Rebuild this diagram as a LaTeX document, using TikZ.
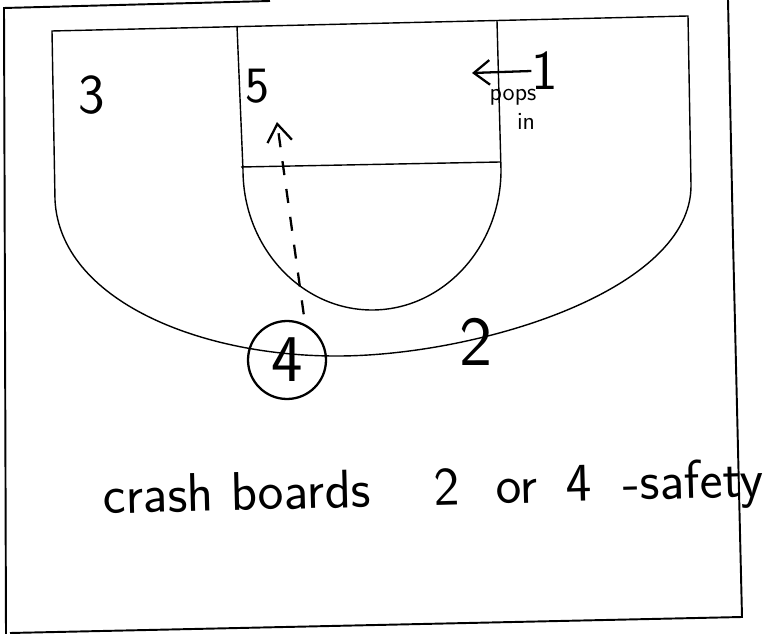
\documentclass[tikz,border=0pt]{standalone}
\usepackage{tikz}
\usetikzlibrary{arrows.meta, positioning, calc}

\begin{document}
\begin{tikzpicture}[x=0.02cm, y=-0.02cm,
  frame/.style={line width=1.1pt},
  court/.style={line width=0.8pt},
  player/.style={font=\sffamily\fontsize{32}{32}\selectfont, inner sep=0pt},
  note/.style={font=\sffamily\fontsize{14}{14}\selectfont, inner sep=0pt},
  cut/.style={line width=1.3pt, dash pattern=on 8pt off 8pt,
    -{Straight Barb[length=10pt, width=14pt, line width=1.3pt]}},
  popline/.style={line width=1.3pt,
    -{Straight Barb[length=9pt, width=14pt, line width=1.3pt]}}]

\useasboundingbox (0,0) rectangle (767,634);

% Sheet border
\draw[frame] (270,1) -- (4,8) -- (6,634);
\draw[frame] (728,0) -- (733,240) -- (742,617) -- (10,633);

% Half court
\draw[court] (55,200) -- (52,31) -- (688,16) -- (691,185)
  .. controls (692,290) and (480,355) .. (340,356)
  .. controls (200,357) and (60,300) .. (55,200);
\draw[court] (237,26) -- (243,170)
  .. controls (243,247) and (301,310) .. (372,310)
  .. controls (443,310) and (501,247) .. (501,170) -- (497,21);
\draw[court] (241,167) -- (500,162);

% Players
\node[player] (p3) at (92,95) {3};
\node[player, font=\sffamily\fontsize{29}{29}\selectfont] (p5) at (257,86) {5};
\node[player] (p1) at (545,71) {1};
\node[player, draw, circle, line width=1.3pt, minimum size=1.56cm,
  font=\sffamily\fontsize{38}{38}\selectfont] (p4) at (287,360) {4};
\node[player, font=\sffamily\fontsize{40}{40}\selectfont] (p2) at (476,342) {2};

\node[note] (pops) at (513,97) {pops};
\node[note] (in) at (526,121) {in};

% Moves
\coordinate (cut5) at (277,122);
\draw[cut] ($(p4.70)+(3,-8)$) -- (cut5);
\coordinate (pop1) at (472,73);
\draw[popline] (p1.west) -- (pop1);

% Caption
\node[font=\sffamily\fontsize{31}{31}\selectfont, inner sep=0pt, anchor=base west, rotate=1.5]
  (crash) at (103,514) {crash boards\hspace{36pt}2\hspace{21pt}or\hspace{16pt}4\hspace{18pt}-safety};

\end{tikzpicture}
\end{document}
